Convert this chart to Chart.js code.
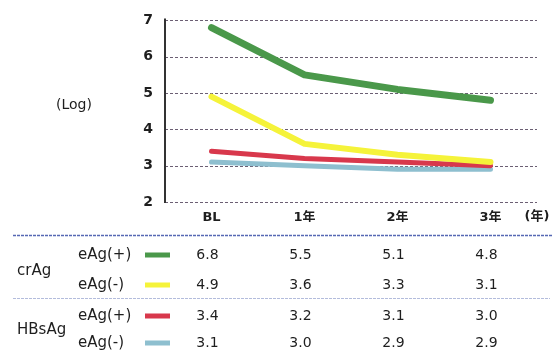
<!DOCTYPE html>
<html>
<head>
<meta charset="utf-8">
<script src="https://cdn.jsdelivr.net/npm/chart.js@4.4.0/dist/chart.umd.min.js"></script>
<style>
    html, body { margin: 0; padding: 0; background: #fff; }
    #chart { display: block; }
</style>
</head>
<body>
<canvas id="chart" width="560" height="356"></canvas>
<script>
// data
const categories = ['BL', '1年', '2年', '3年'];
const groupNames = ['crAg', 'HBsAg'];
const seriesLabels = ['eAg(+)', 'eAg(-)', 'eAg(+)', 'eAg(-)'];
const crAgPositive = [6.8, 5.5, 5.1, 4.8];
const crAgNegative = [4.9, 3.6, 3.3, 3.1];
const hbsAgPositive = [3.4, 3.2, 3.1, 3.0];
const hbsAgNegative = [3.1, 3.0, 2.9, 2.9];
const yTicks = [2, 3, 4, 5, 6, 7];

const colors = ['#4a984a', '#f5f33a', '#d8384c', '#8ebfcf'];
const widths = [7, 6, 5, 5];
const FONT = "'DejaVu Sans', 'Noto Sans CJK JP', sans-serif";
const textColor = '#1e1e1e';

const seriesData = [crAgPositive, crAgNegative, hbsAgPositive, hbsAgNegative];

// y gridlines (dashed) drawn from the y scale
const gridPlugin = {
    id: 'dashGrid',
    beforeDatasetsDraw(chart) {
        const ctx = chart.ctx;
        const ys = chart.scales.y;
        const area = chart.chartArea;
        ctx.save();
        ctx.strokeStyle = '#6b5f73';
        ctx.lineWidth = 1;
        ctx.setLineDash([3, 2]);
        yTicks.forEach(v => {
            const y = Math.round(ys.getPixelForValue(v)) + 0.5;
            ctx.beginPath();
            ctx.moveTo(area.left, y);
            ctx.lineTo(area.right, y);
            ctx.stroke();
        });
        ctx.setLineDash([]);
        ctx.strokeStyle = '#333';
        ctx.lineWidth = 2;
        ctx.beginPath();
        ctx.moveTo(area.left, area.top - 2);
        ctx.lineTo(area.left, area.bottom + 1);
        ctx.stroke();
        ctx.restore();
    }
};

// table under the plot + loose labels
const extrasPlugin = {
    id: 'extras',
    afterDraw(chart) {
        const ctx = chart.ctx;
        const xs = chart.scales.x;
        ctx.save();
        ctx.fillStyle = textColor;
        ctx.textBaseline = 'middle';

        ctx.font = '14px ' + FONT;
        ctx.textAlign = 'center';
        ctx.fillText('(Log)', 74, 105);
        ctx.font = 'bold 13px ' + FONT;
        ctx.fillText('(年)', 537, 217);

        // separators
        ctx.setLineDash([3, 1]);
        ctx.lineWidth = 1.5;
        ctx.strokeStyle = '#5668b4';
        ctx.beginPath();
        ctx.moveTo(13, 235.5);
        ctx.lineTo(552, 235.5);
        ctx.stroke();
        ctx.strokeStyle = '#b3bcdc';
        ctx.lineWidth = 1;
        ctx.beginPath();
        ctx.moveTo(13, 298.5);
        ctx.lineTo(550, 298.5);
        ctx.stroke();
        ctx.setLineDash([]);

        const rowY = [255, 285, 316, 343];
        ctx.textAlign = 'left';
        ctx.font = '15px ' + FONT;
        ctx.fillText(groupNames[0], 17, 271);
        ctx.fillText(groupNames[1], 17, 330);

        seriesLabels.forEach((lab, i) => {
            ctx.fillStyle = textColor;
            ctx.textAlign = 'left';
            ctx.font = '15px ' + FONT;
            ctx.fillText(lab, 78, rowY[i]);
            ctx.fillStyle = colors[i];
            ctx.fillRect(145, rowY[i] - 2.5, 25, 5);
            ctx.fillStyle = textColor;
            ctx.textAlign = 'center';
            ctx.font = '14px ' + FONT;
            seriesData[i].forEach((v, j) => {
                ctx.fillText(v.toFixed(1), xs.getPixelForValue(j) - 4, rowY[i]);
            });
        });
        ctx.restore();
    }
};

new Chart(document.getElementById('chart'), {
    type: 'line',
    data: {
        labels: categories,
        datasets: seriesData.map((d, i) => ({
            label: seriesLabels[i],
            data: d,
            borderColor: colors[i],
            backgroundColor: colors[i],
            borderWidth: widths[i],
            borderCapStyle: 'round',
            borderJoinStyle: 'round',
            pointRadius: 0,
            tension: 0
        }))
    },
    options: {
        responsive: false,
        animation: false,
        events: [],
        layout: { padding: { top: 17, right: 23, bottom: 134, left: 0 } },
        plugins: {
            legend: { display: false },
            tooltip: { enabled: false }
        },
        scales: {
            x: {
                offset: true,
                afterFit: s => { s.height = 20; },
                grid: { display: false, drawTicks: false },
                border: { display: false },
                ticks: {
                    color: textColor,
                    font: { family: FONT, size: 13, weight: 'bold' },
                    padding: 8,
                    maxRotation: 0
                }
            },
            y: {
                min: 2,
                max: 7,
                afterFit: s => { s.width = 165; },
                grid: { display: false, drawTicks: false },
                border: { display: false },
                ticks: {
                    stepSize: 1,
                    color: textColor,
                    font: { family: FONT, size: 14, weight: 'bold' },
                    padding: 12
                }
            }
        }
    },
    plugins: [gridPlugin, extrasPlugin]
});
</script>
</body>
</html>
